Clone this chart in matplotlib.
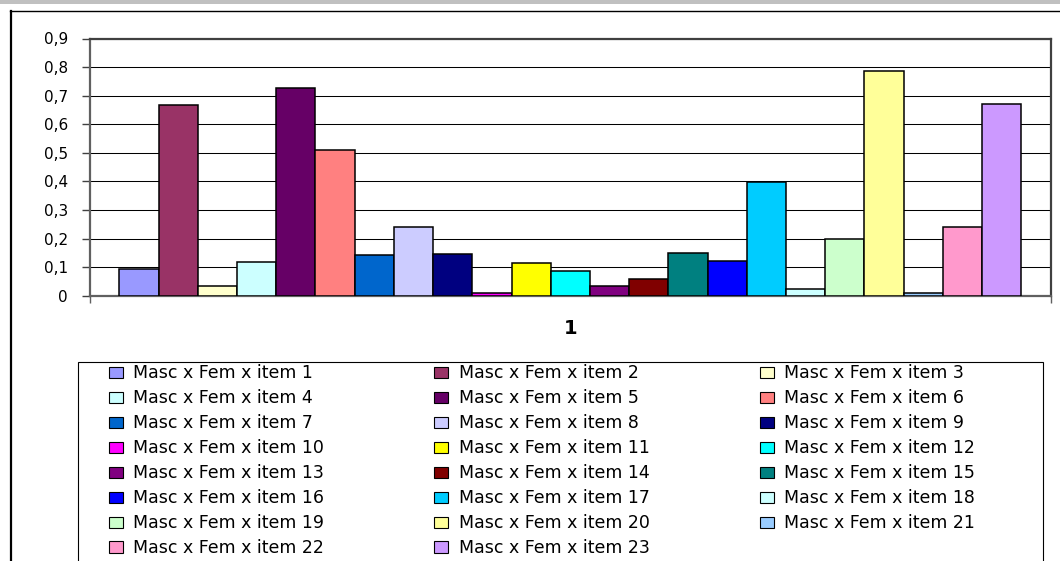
import matplotlib
matplotlib.use("Agg")
import matplotlib.pyplot as plt
from matplotlib.lines import Line2D
from matplotlib.patches import Rectangle

# Category axis (a single group) and one series per item
categories = ["1"]
series_labels = [f"Masc x Fem x item {i}" for i in range(1, 24)]
series_values = [
    0.092, 0.667, 0.033, 0.119, 0.727, 0.510, 0.141, 0.242, 0.146, 0.008,
    0.114, 0.086, 0.033, 0.059, 0.151, 0.123, 0.398, 0.022, 0.199, 0.786,
    0.008, 0.242, 0.671,
]
series_colors = [
    "#9999FF", "#993366", "#FFFFCC", "#CCFFFF", "#660066", "#FF8080",
    "#0066CC", "#CCCCFF", "#000080", "#FF00FF", "#FFFF00", "#00FFFF",
    "#800080", "#800000", "#008080", "#0000FF", "#00CCFF", "#CCFFFF",
    "#CCFFCC", "#FFFF99", "#99CCFF", "#FF99CC", "#CC99FF",
]
y_ticks = [0.0, 0.1, 0.2, 0.3, 0.4, 0.5, 0.6, 0.7, 0.8, 0.9]
y_tick_labels = ["0", "0,1", "0,2", "0,3", "0,4", "0,5", "0,6", "0,7", "0,8", "0,9"]

W, H = 1060, 561
fig = plt.figure(figsize=(W / 100, H / 100), dpi=100)
fig.patch.set_facecolor("white")
plt.rcParams["font.family"] = ["DejaVu Sans"]


def fx(px):
    return px / W


def fy(py):
    return 1 - py / H


# page strip above the chart object and the chart-area frame
fig.patches.append(Rectangle((0, fy(3.5)), 1, 3.5 / H, transform=fig.transFigure,
                             facecolor="#C0C0C0", edgecolor="none", zorder=0))
fig.add_artist(Line2D([fx(10), 1], [fy(10.5), fy(10.5)], transform=fig.transFigure,
                      color="black", lw=1.0))
fig.add_artist(Line2D([fx(10.5), fx(10.5)], [0, fy(10.5)], transform=fig.transFigure,
                      color="black", lw=1.6))

ax = fig.add_axes([fx(90), fy(295.7), fx(1050.7) - fx(90), fy(38.5) - fy(295.7)])

n = len(series_values)
bar_w = 1.0
gap = 1.5 * bar_w  # gap width 150 %
group_span = n * bar_w + gap
handles = []
for ci, cat in enumerate(categories):
    start = ci * group_span - group_span / 2 + gap / 2
    for i, (v, c, lab) in enumerate(zip(series_values, series_colors, series_labels)):
        b = ax.bar(start + (i + 0.5) * bar_w, v, width=bar_w, color=c,
                   edgecolor="black", linewidth=1.1, zorder=3, label=lab)
        handles.append(b.patches[0])

ax.set_xlim(-group_span / 2, (len(categories) - 0.5) * group_span)
ax.set_ylim(0, 0.9)

ax.set_yticks(y_ticks)
ax.set_yticklabels(y_tick_labels, fontsize=11)
ax.tick_params(axis="y", direction="out", length=6, width=1, pad=10, color="#404040")
ax.yaxis.grid(True, color="black", lw=0.75, zorder=0)
ax.set_axisbelow(True)

ax.set_xticks([ci * group_span for ci in range(len(categories))])
ax.set_xticklabels(categories, fontsize=14, fontweight="bold")
ax.tick_params(axis="x", length=0, pad=17)
ax.set_xticks([-group_span / 2, group_span / 2], minor=True)
ax.tick_params(axis="x", which="minor", direction="out", length=5, width=1, color="#606060")

for s in ax.spines.values():
    s.set_color("#404040")
    s.set_linewidth(1.6)
ax.spines["left"].set_color("#606060")
ax.spines["bottom"].set_color("#606060")

# legend: three columns filled row by row (1, 2, 3 / 4, 5, 6 / ...)
ncol = 3
order = [i for c in range(ncol) for i in range(c, n, ncol)]
fig.patches.append(Rectangle((fx(78), fy(575)), fx(1043) - fx(78), fy(361.7) - fy(575),
                             transform=fig.transFigure, facecolor="white",
                             edgecolor="black", linewidth=0.8, zorder=1))
leg = fig.legend(
    handles=[handles[i] for i in order],
    labels=[series_labels[i] for i in order],
    ncol=ncol,
    loc="upper left",
    bbox_to_anchor=(fx(109), fy(364.5), fx(975) - fx(109), 0.0),
    mode="expand",
    fontsize=12.5,
    frameon=False,
    handlelength=0.8,
    handleheight=0.6,
    handletextpad=0.6,
    labelspacing=0.4,
    borderpad=0.0,
    borderaxespad=0,
    columnspacing=1.0,
)
leg.set_zorder(2)
for p in leg.get_patches():
    p.set_linewidth(0.8)

fig.savefig("out.png", dpi=100)
